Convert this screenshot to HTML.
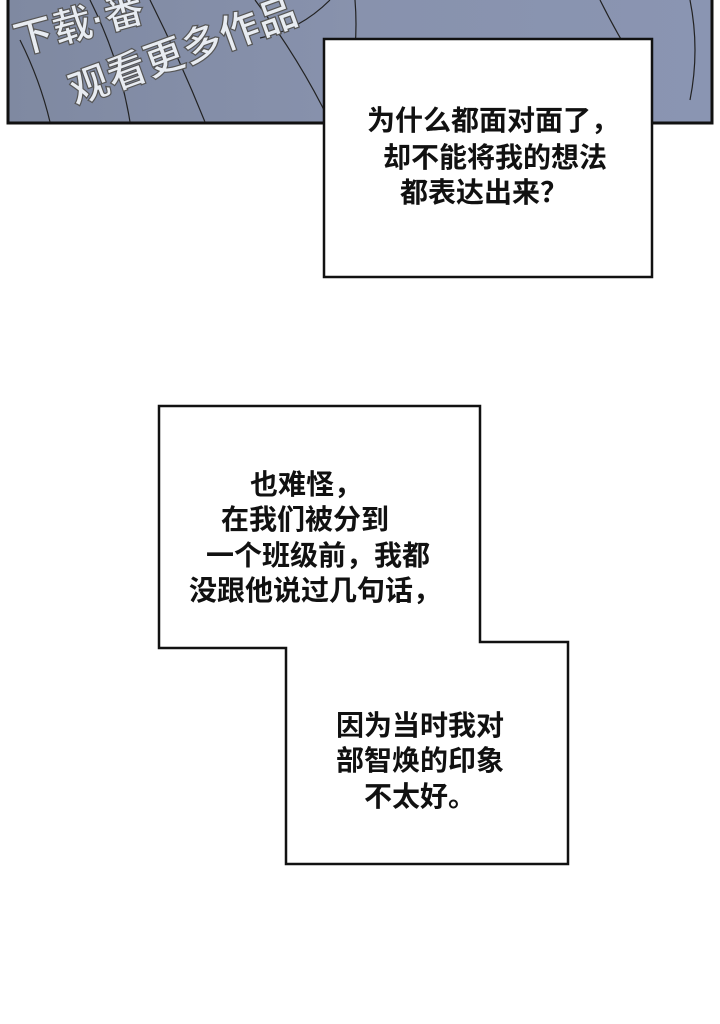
<!DOCTYPE html>
<html><head><meta charset="utf-8"><style>
body{margin:0;width:720px;height:1024px;background:#fff;overflow:hidden}
</style></head><body>
<svg width="720" height="1024" xmlns="http://www.w3.org/2000/svg" style="position:absolute;left:0;top:0">
<defs><linearGradient id="g" x1="0" x2="1"><stop offset="0" stop-color="#7f89a1"/><stop offset="0.5" stop-color="#8892ad"/><stop offset="1" stop-color="#8a95b2"/></linearGradient></defs>
<rect x="8" y="-5" width="704" height="128" fill="url(#g)" stroke="#111" stroke-width="3"/>
<g stroke="#222" stroke-width="1.2" fill="none">
<path d="M90 0 Q120 60 130 122"/><path d="M150 0 Q180 60 205 122"/><path d="M255 0 Q300 60 330 122"/><path d="M330 0 Q300 30 260 38"/><path d="M355 0 Q360 60 340 122"/><path d="M600 0 Q620 40 640 70"/><path d="M690 0 Q700 50 690 100"/><path d="M20 40 Q40 80 50 122"/>
</g>
<g font-family="Liberation Sans, Noto Sans CJK SC, sans-serif" font-size="40" fill="#e8ecf2" stroke="#555" stroke-width="1.2" font-weight="bold">
<text x="18" y="55" transform="rotate(-15 18 55)">下载·番</text>
<text x="75" y="105" transform="rotate(-20 75 105)">观看更多作品</text>
</g>
<rect x="324" y="39" width="328" height="238" fill="#fff" stroke="#111" stroke-width="2.5"/>
<path d="M159 406 H480 V642 H568 V864 H286 V648 H159 Z" fill="#fff" stroke="#111" stroke-width="2.5"/>
<g font-family="Liberation Sans, Noto Sans CJK SC, sans-serif" font-size="28" font-weight="bold" fill="#111" text-anchor="middle">
<text x="493" y="130">为什么都面对面了，</text>
<text x="495" y="167">却不能将我的想法</text>
<text x="484" y="202">都表达出来？</text>
<text x="306" y="494">也难怪，</text>
<text x="305" y="529">在我们被分到</text>
<text x="318" y="565">一个班级前，我都</text>
<text x="315" y="600">没跟他说过几句话，</text>
<text x="420" y="735">因为当时我对</text>
<text x="420" y="770">部智焕的印象</text>
<text x="420" y="806">不太好。</text>
</g>
</svg>
</body></html>
